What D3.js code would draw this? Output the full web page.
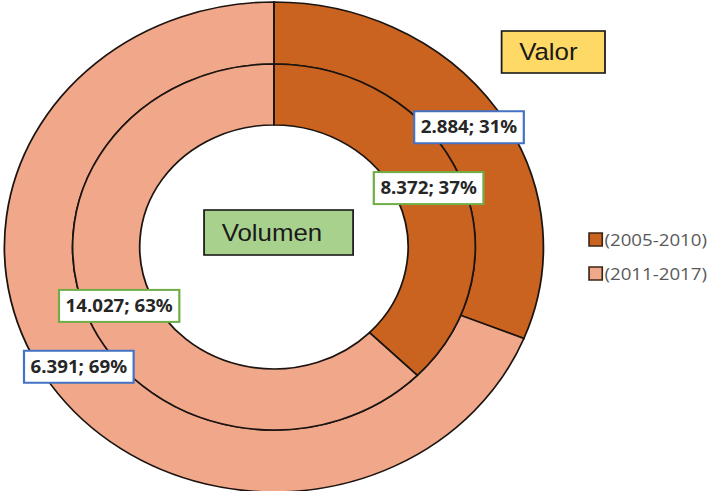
<!DOCTYPE html>
<html>
<head>
<meta charset="utf-8">
<script src="https://cdn.jsdelivr.net/npm/d3@7"></script>
<style>
  body { margin: 0; background: #fff; }
</style>
</head>
<body>
<div id="chart"></div>
<script>
// data
const periods = ["(2005-2010)", "(2011-2017)"];
const valor = [2884, 6391];      // outer ring
const volumen = [8372, 14027];   // inner ring
const ringNames = ["Valor", "Volumen"];
const colors = ["#C9631F", "#F1A88A"];

const width = 714, height = 491;
const sx = 1.1; // the original picture is stretched sideways
const cx = 249, cy = 247;

const svg = d3.select("#chart").append("svg")
    .attr("width", width)
    .attr("height", height);

const root = svg.append("g").attr("transform", `scale(${sx},1)`);

const es = d3.formatLocale({decimal: ",", thousands: ".", grouping: [3], currency: ["", ""]});
const fmt = es.format(",");

const rings = [
  {name: ringNames[0], values: valor, inner: 183, outer: 245, border: "#4472C4"},
  {name: ringNames[1], values: volumen, inner: 122, outer: 183, border: "#70AD47"}
];

const pie = d3.pie().sort(null);
const chartG = root.append("g").attr("transform", `translate(${cx},${cy})`);

// slices
rings.forEach(ring => {
  let arc = d3.arc().innerRadius(ring.inner).outerRadius(ring.outer);
  ring.arcs = pie(ring.values);
  ring.arc = arc;
  chartG.selectAll(null)
    .data(ring.arcs)
    .enter()
    .append("path")
    .attr("d", arc)
    .attr("fill", (d, i) => colors[i])
    .attr("stroke", "#1b1410")
    .attr("stroke-width", 1.6);
});

// value labels at slice centroids
rings.forEach(ring => {
  let total = d3.sum(ring.values);
  ring.arcs.forEach(d => {
    let c = ring.arc.centroid(d);
    let txt = fmt(d.value) + "; " + Math.round(d.value / total * 100) + "%";
    let g = chartG.append("g").attr("transform", `translate(${c[0]},${c[1]})`);
    let rect = g.append("rect");
    let t = g.append("text")
      .attr("text-anchor", "middle")
      .attr("dy", "0.35em")
      .style("font-family", "'Noto Sans', sans-serif")
      .style("font-weight", "bold")
      .style("font-size", "17px")
      .attr("fill", "#262626")
      .text(txt);
    let w = t.node().getComputedTextLength() + 12;
    rect.attr("x", -w / 2).attr("y", -16)
      .attr("width", w).attr("height", 32)
      .attr("fill", "#fff")
      .attr("stroke", ring.border)
      .attr("stroke-width", 2);
  });
});

// ring name boxes
const nameBoxes = [
  {text: ringNames[0], x: 456, y: 31, w: 94, h: 42, fill: "#FFD966"},
  {text: ringNames[1], x: 185.5, y: 210, w: 135.5, h: 45, fill: "#A9D18E"}
];
nameBoxes.forEach(b => {
  root.append("rect")
    .attr("x", b.x).attr("y", b.y)
    .attr("width", b.w).attr("height", b.h)
    .attr("fill", b.fill)
    .attr("stroke", "#1a1a1a")
    .attr("stroke-width", 1.6);
  root.append("text")
    .attr("x", b.x + 16)
    .attr("y", b.y + b.h / 2)
    .attr("dy", "0.35em")
    .style("font-family", "'Liberation Sans', Arial, sans-serif")
    .style("font-size", "23.5px")
    .attr("fill", "#1a1a1a")
    .text(b.text);
});

// legend
const legend = root.append("g").attr("transform", "translate(535.5,233)");
periods.forEach((p, i) => {
  let row = legend.append("g").attr("transform", `translate(0,${i * 34})`);
  row.append("rect")
    .attr("width", 12).attr("height", 13)
    .attr("fill", colors[i])
    .attr("stroke", "#3b2616")
    .attr("stroke-width", 1.5);
  row.append("text")
    .attr("x", 14)
    .attr("y", 7)
    .attr("dy", "0.35em")
    .style("font-family", "'Open Sans', sans-serif")
    .style("font-size", "17px")
    .attr("fill", "#595959")
    .text(p);
});
</script>
</body>
</html>
